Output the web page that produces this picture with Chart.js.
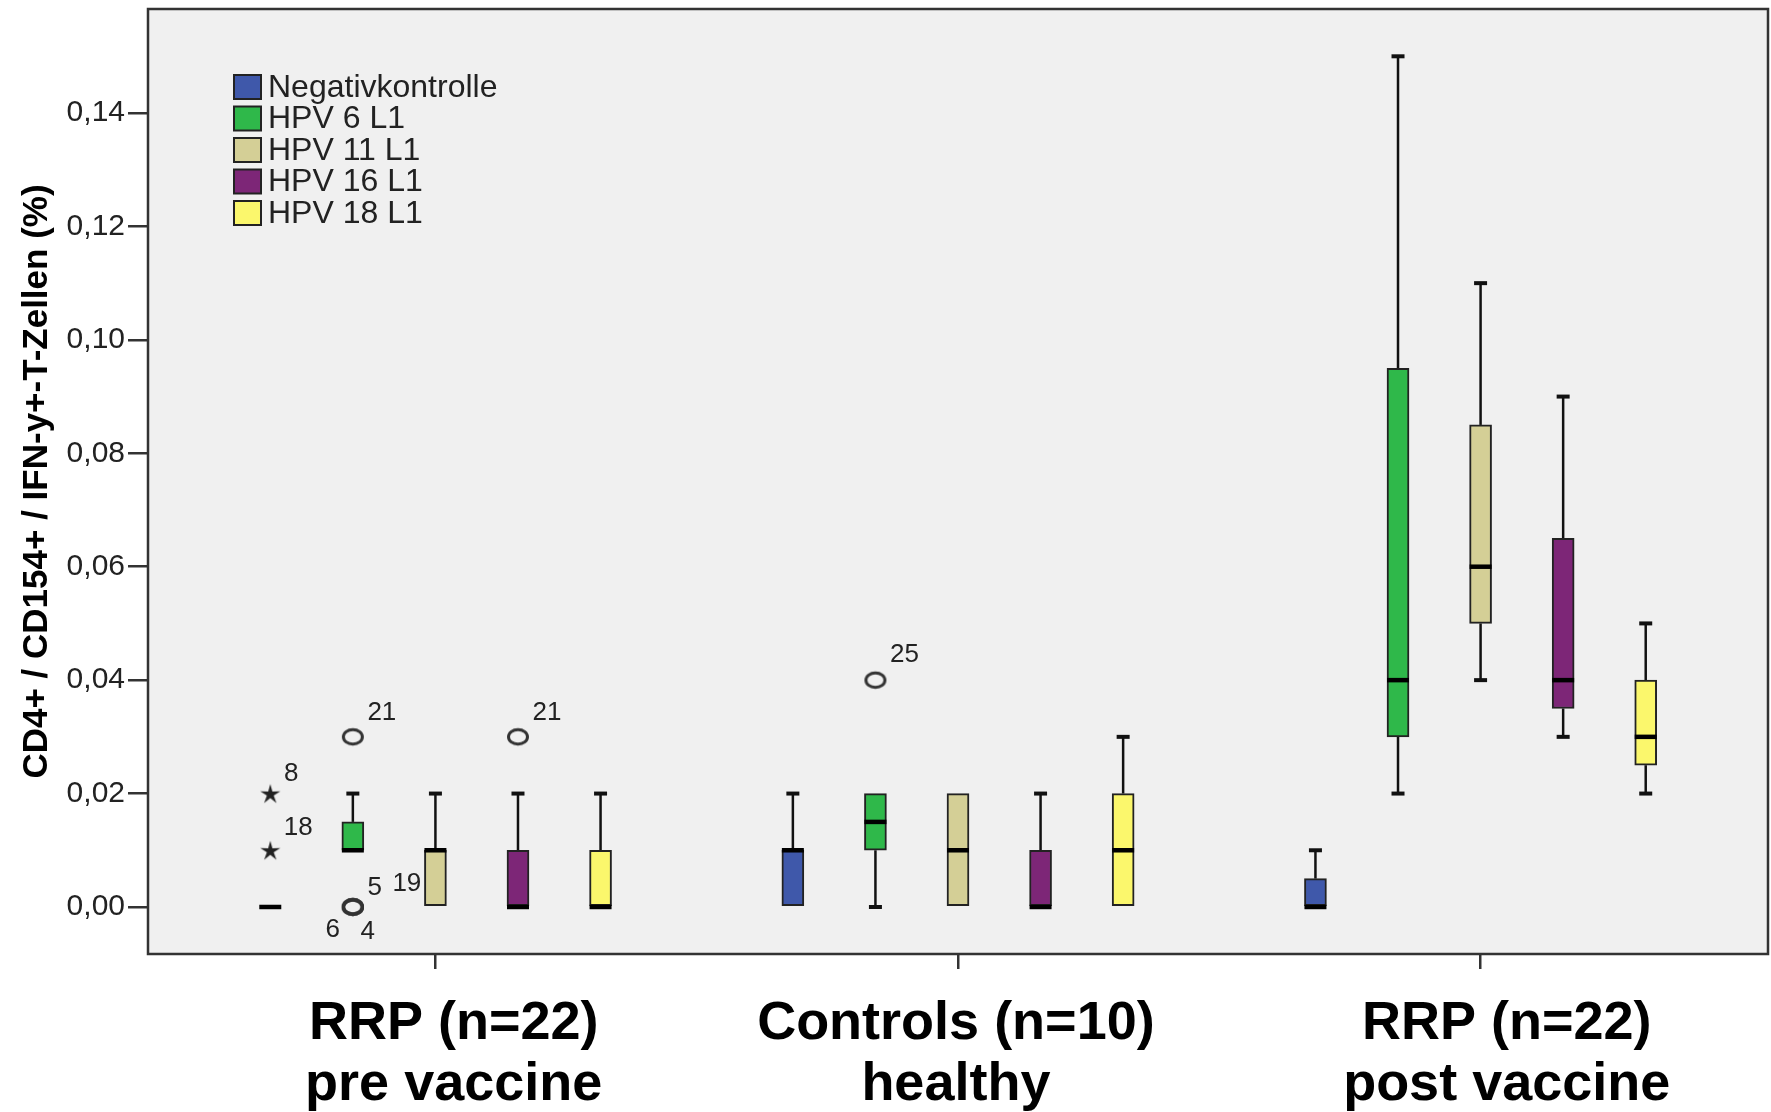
<!DOCTYPE html>
<html>
<head>
<meta charset="utf-8">
<script src="https://cdn.jsdelivr.net/npm/chart.js@4.4.1/dist/chart.umd.min.js"></script>
<style>
  html, body { margin: 0; background: #fff; }
  #wrap { width: 1771px; height: 1112px; }
</style>
</head>
<body>
<div id="wrap"><canvas id="boxChart"></canvas></div>
<script>
// categories
const groupLabels = [['RRP (n=22)', 'pre vaccine'], ['Controls (n=10)', 'healthy'], ['RRP (n=22)', 'post vaccine']];
const seriesNames = ['Negativkontrolle', 'HPV 6 L1', 'HPV 11 L1', 'HPV 16 L1', 'HPV 18 L1'];

// box statistics, [series][group]
const whiskerLow  = [[0, 0, 0], [0.01, 0, 0.02], [0, 0, 0.04], [0, 0, 0.03], [0, 0, 0.02]];
const q1          = [[0, 0, 0], [0.01, 0.01, 0.03], [0, 0, 0.05], [0, 0, 0.035], [0, 0, 0.025]];
const median      = [[0, 0.01, 0], [0.01, 0.015, 0.04], [0.01, 0.01, 0.06], [0, 0, 0.04], [0, 0.01, 0.03]];
const q3          = [[0, 0.01, 0.005], [0.015, 0.02, 0.095], [0.01, 0.02, 0.085], [0.01, 0.01, 0.065], [0.01, 0.02, 0.04]];
const whiskerHigh = [[0, 0.02, 0.01], [0.02, 0.02, 0.15], [0.02, 0.02, 0.11], [0.02, 0.02, 0.09], [0.02, 0.03, 0.05]];

// outliers (circle) and extremes (star)
const outlierSeries  = [0, 0, 1, 1, 1, 1, 1, 3, 1];
const outlierGroup   = [0, 0, 0, 0, 0, 0, 0, 0, 1];
const outlierValue   = [0.02, 0.01, 0.03, 0, 0, 0, 0, 0.03, 0.04];
const outlierCase    = ['8', '18', '21', '5', '19', '6', '4', '21', '25'];
const outlierExtreme = [true, true, false, false, false, false, false, false, false];

const yTicks = [0, 0.02, 0.04, 0.06, 0.08, 0.1, 0.12, 0.14];

// styling / layout
const seriesColors = ['#3f58aa', '#2fb84a', '#d4cf96', '#7d2677', '#fbf76c'];
const groupCenters = [1, 2, 3];
const groupLabelShift = [0.035, -0.004, 0.05];
const seriesStep = 0.158;
const labelOffsets = [[21, -20], [28, -22], [29, -24], [22, -19], [54, -23], [-20, 23], [15, 25], [29, -24], [29, -25]];
const FONT = "'Liberation Sans', Arial, Helvetica, sans-serif";

const xPos = (g, s) => groupCenters[g] + (s - 2) * seriesStep;

// marker images
function makeEllipse() {
  const c = document.createElement('canvas');
  c.width = 26; c.height = 21;
  const x = c.getContext('2d');
  x.strokeStyle = '#333'; x.lineWidth = 3;
  x.beginPath(); x.ellipse(13, 10.5, 9.5, 7.3, 0, 0, Math.PI * 2); x.stroke();
  return c;
}
function makeStar() {
  const c = document.createElement('canvas');
  c.width = 24; c.height = 24;
  const x = c.getContext('2d');
  x.fillStyle = '#222';
  x.beginPath();
  for (let i = 0; i < 10; i++) {
    const r = i % 2 ? 3.6 : 10.5;
    const a = -Math.PI / 2 + i * Math.PI / 5;
    x.lineTo(12 + r * Math.cos(a), 13 + r * Math.sin(a));
  }
  x.closePath(); x.fill();
  return c;
}

const boxDatasets = seriesNames.map((name, s) => ({
  type: 'bar',
  label: name,
  data: groupLabels.map((_, g) => ({ x: xPos(g, s), y: [q1[s][g], q3[s][g]] })),
  backgroundColor: seriesColors[s],
  borderColor: '#222',
  borderWidth: 2,
  borderSkipped: false,
  barThickness: 22,
  grouped: false
}));

const idx = outlierCase.map((_, i) => i);
const circleData = idx.filter(i => !outlierExtreme[i]).map(i => ({ x: xPos(outlierGroup[i], outlierSeries[i]), y: outlierValue[i] }));
const starData = idx.filter(i => outlierExtreme[i]).map(i => ({ x: xPos(outlierGroup[i], outlierSeries[i]), y: outlierValue[i] }));

const boxPlugin = {
  id: 'boxExtras',
  beforeDraw(chart) {
    const { ctx, chartArea: a } = chart;
    ctx.save();
    ctx.fillStyle = '#f0f0f0';
    ctx.fillRect(a.left, a.top, a.right - a.left, a.bottom - a.top);
    ctx.restore();
  },
  beforeDatasetsDraw(chart) {
    // whiskers behind the boxes
    const { ctx, scales: { x, y } } = chart;
    ctx.save();
    ctx.strokeStyle = '#111';
    seriesNames.forEach((_, s) => {
      groupLabels.forEach((_, g) => {
        const px = x.getPixelForValue(xPos(g, s));
        const segs = [[whiskerHigh[s][g], q3[s][g]], [whiskerLow[s][g], q1[s][g]]];
        segs.forEach(([w, q]) => {
          if (w === q) return;
          ctx.lineWidth = 2.5;
          ctx.beginPath();
          ctx.moveTo(px, y.getPixelForValue(w));
          ctx.lineTo(px, y.getPixelForValue(q));
          ctx.stroke();
          ctx.lineWidth = 4;
          ctx.beginPath();
          ctx.moveTo(px - 6.5, y.getPixelForValue(w));
          ctx.lineTo(px + 6.5, y.getPixelForValue(w));
          ctx.stroke();
        });
      });
    });
    ctx.restore();
  },
  afterDatasetsDraw(chart) {
    const { ctx, chartArea: a, scales: { x, y } } = chart;
    ctx.save();
    // medians
    ctx.strokeStyle = '#000';
    ctx.lineWidth = 4.5;
    seriesNames.forEach((_, s) => {
      groupLabels.forEach((_, g) => {
        const px = x.getPixelForValue(xPos(g, s));
        const py = y.getPixelForValue(median[s][g]);
        ctx.beginPath();
        ctx.moveTo(px - 11, py);
        ctx.lineTo(px + 11, py);
        ctx.stroke();
      });
    });
    // case labels of outliers
    ctx.fillStyle = '#222';
    ctx.font = '26px ' + FONT;
    ctx.textAlign = 'center';
    ctx.textBaseline = 'middle';
    idx.forEach(i => {
      const px = x.getPixelForValue(xPos(outlierGroup[i], outlierSeries[i]));
      const py = y.getPixelForValue(outlierValue[i]);
      ctx.fillText(outlierCase[i], px + labelOffsets[i][0], py + labelOffsets[i][1]);
    });
    // legend
    ctx.font = '32px ' + FONT;
    ctx.textAlign = 'left';
    boxDatasets.forEach((ds, s) => {
      const lx = a.left + 86, ly = a.top + 66 + s * 31.5;
      ctx.fillStyle = ds.backgroundColor;
      ctx.fillRect(lx, ly, 27, 24);
      ctx.strokeStyle = '#222';
      ctx.lineWidth = 2;
      ctx.strokeRect(lx, ly, 27, 24);
      ctx.fillStyle = '#222';
      ctx.fillText(ds.label, lx + 34, ly + 13);
    });
    ctx.restore();
  },
  afterDraw(chart) {
    const { ctx, chartArea: a } = chart;
    ctx.save();
    ctx.strokeStyle = '#333';
    ctx.lineWidth = 2.5;
    ctx.strokeRect(a.left, a.top, a.right - a.left, a.bottom - a.top);
    ctx.restore();
  }
};

Chart.defaults.font.family = FONT;
Chart.defaults.color = '#222';

new Chart(document.getElementById('boxChart'), {
  type: 'bar',
  data: {
    datasets: [
      ...boxDatasets,
      {
        type: 'scatter', label: 'Ausreißer', data: circleData,
        pointStyle: makeEllipse(), radius: 8, pointHoverRadius: 8
      },
      {
        type: 'scatter', label: 'Extremwerte', data: starData,
        pointStyle: makeStar(), radius: 8, pointHoverRadius: 8
      }
    ]
  },
  options: {
    responsive: true,
    maintainAspectRatio: false,
    animation: false,
    layout: { autoPadding: false, padding: { top: 9, right: 3, left: 0, bottom: 0 } },
    plugins: {
      legend: { display: false },
      tooltip: { enabled: false }
    },
    scales: {
      x: {
        type: 'linear',
        offset: false,
        weight: 0,
        min: 0.45,
        max: 3.55,
        afterBuildTicks: (scale) => { scale.ticks = groupCenters.map(v => ({ value: v })); },
        afterFit: (scale) => {
          scale.height = 15;
          scale.paddingLeft = 0; scale.paddingRight = 0;
        },
        grid: { offset: false, drawOnChartArea: false, drawTicks: true, tickLength: 15, tickColor: '#333', lineWidth: 2.5 },
        border: { display: false },
        ticks: { display: false }
      },
      xLabels: {
        type: 'linear',
        position: 'bottom',
        offset: false,
        weight: 1,
        min: 0.45,
        max: 3.55,
        afterBuildTicks: (scale) => { scale.ticks = groupCenters.map((v, g) => ({ value: v + groupLabelShift[g] })); },
        afterFit: (scale) => {
          scale.height = 143;
          scale.paddingLeft = 0; scale.paddingRight = 0;
        },
        grid: { display: false, drawTicks: false },
        border: { display: false },
        ticks: {
          autoSkip: false,
          maxRotation: 0,
          padding: 25,
          color: '#000',
          font: { size: 54, weight: 'bold', lineHeight: 1.13 },
          callback: (v, i) => groupLabels[i]
        }
      },
      y: {
        min: -0.00829,
        max: 0.15834,
        afterBuildTicks: (scale) => { scale.ticks = yTicks.map(v => ({ value: v })); },
        afterFit: (scale) => {
          scale.width = 148;
          scale.paddingTop = 0; scale.paddingBottom = 0;
        },
        grid: { drawOnChartArea: false, drawTicks: true, tickLength: 20, tickColor: '#333', lineWidth: 2.5 },
        border: { display: false },
        ticks: {
          padding: 3,
          font: { size: 30 },
          callback: (v) => v.toFixed(2).replace('.', ',')
        },
        title: {
          display: true,
          text: 'CD4+ / CD154+ / IFN-y+-T-Zellen (%)',
          color: '#000',
          font: { size: 35, weight: 'bold' },
          padding: { top: 16, bottom: 0 }
        }
      }
    }
  },
  plugins: [boxPlugin]
});
</script>
</body>
</html>
